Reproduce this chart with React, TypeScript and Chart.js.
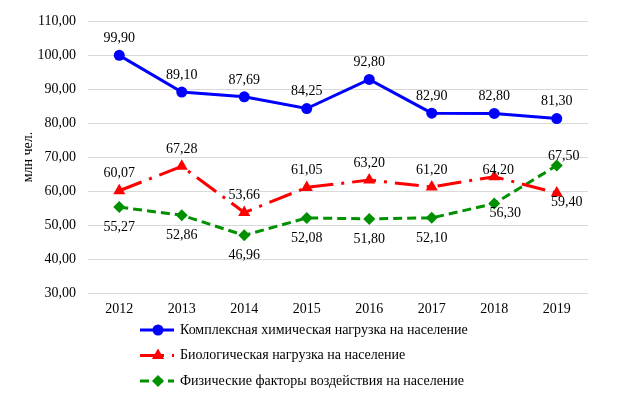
import React, { useEffect, useRef } from "react";
import { Chart, registerables } from "chart.js";

Chart.register(...registerables);

const years = ["2012", "2013", "2014", "2015", "2016", "2017", "2018", "2019"];
const chemical = [99.9, 89.1, 87.69, 84.25, 92.8, 82.9, 82.8, 81.3];
const biological = [60.07, 67.28, 53.66, 61.05, 63.2, 61.2, 64.2, 59.4];
const physical = [55.27, 52.86, 46.96, 52.08, 51.8, 52.1, 56.3, 67.5];
const seriesNames = [
  "Комплексная химическая нагрузка на население",
  "Биологическая нагрузка на население",
  "Физические факторы воздействия на население",
];
const yTicks = { min: 30, max: 110, step: 10 };
const yTitle = "млн чел.";

const FONT_FAMILY = "'Liberation Serif', 'Times New Roman', serif";
const fmt = (v: number) => v.toFixed(2).replace(".", ",");

// label placement (styling, not data): default offset and per-index overrides
const labelOffsets: { def: [number, number]; over: Record<number, [number, number]> }[] = [
  { def: [0, -17], over: {} },
  { def: [0, -17], over: { 6: [4, -6], 7: [10, 9] } },
  { def: [0, 20], over: { 6: [11, 10], 7: [7, -9] } },
];

function drawMarker(ctx: CanvasRenderingContext2D, style: string, x: number, y: number, r: number, color: string) {
  ctx.save();
  ctx.setLineDash([]);
  ctx.fillStyle = color;
  ctx.beginPath();
  if (style === "circle") {
    ctx.arc(x, y, r, 0, Math.PI * 2);
  } else if (style === "triangle") {
    for (let i = 0; i < 3; i++) {
      const a = (i * 2 * Math.PI) / 3;
      const px = x + Math.sin(a) * r;
      const py = y - Math.cos(a) * r;
      if (i === 0) ctx.moveTo(px, py);
      else ctx.lineTo(px, py);
    }
    ctx.closePath();
  } else {
    ctx.moveTo(x, y - r);
    ctx.lineTo(x + r, y);
    ctx.lineTo(x, y + r);
    ctx.lineTo(x - r, y);
    ctx.closePath();
  }
  ctx.fill();
  ctx.restore();
}

const labelPlugin = {
  id: "valueLabels",
  afterDatasetsDraw(chart: any) {
    const ctx = chart.ctx as CanvasRenderingContext2D;
    ctx.save();
    ctx.font = `14px ${FONT_FAMILY}`;
    ctx.fillStyle = "#000";
    ctx.textAlign = "center";
    ctx.textBaseline = "middle";
    chart.data.datasets.forEach((ds: any, di: number) => {
      const meta = chart.getDatasetMeta(di);
      meta.data.forEach((pt: any, i: number) => {
        const off = labelOffsets[di].over[i] || labelOffsets[di].def;
        ctx.fillText(fmt(ds.data[i]), pt.x + off[0], pt.y + off[1]);
      });
    });
    ctx.restore();
  },
};

const legendPlugin = {
  id: "customLegend",
  afterDraw(chart: any) {
    const ctx = chart.ctx as CanvasRenderingContext2D;
    const base = chart.chartArea.bottom + 37;
    ctx.save();
    ctx.font = `14px ${FONT_FAMILY}`;
    ctx.textBaseline = "middle";
    ctx.textAlign = "left";
    chart.data.datasets.forEach((ds: any, i: number) => {
      const y = base + i * 25.5;
      const x0 = 132;
      const x1 = 166;
      ctx.save();
      ctx.strokeStyle = ds.borderColor;
      ctx.lineWidth = ds.borderWidth;
      ctx.setLineDash(ds.borderDash || []);
      ctx.beginPath();
      ctx.moveTo(x0, y);
      ctx.lineTo(x1, y);
      ctx.stroke();
      ctx.restore();
      drawMarker(ctx, ds.pointStyle, 150, y, ds.pointRadius, ds.borderColor);
      ctx.fillStyle = "#000";
      ctx.fillText(ds.label, 172, y);
    });
    ctx.restore();
  },
};

export default function App() {
  const ref = useRef<HTMLCanvasElement | null>(null);
  useEffect(() => {
    if (!ref.current) return;
    const font = { family: FONT_FAMILY, size: 14 };
    const chart = new Chart(ref.current, {
      type: "line",
      data: {
        labels: years,
        datasets: [
          {
            label: seriesNames[0],
            data: chemical,
            borderColor: "#0000ff",
            backgroundColor: "#0000ff",
            borderWidth: 3,
            pointStyle: "circle",
            pointRadius: 5.5,
            pointBackgroundColor: "#0000ff",
            pointBorderColor: "#0000ff",
            pointBorderWidth: 0,
            tension: 0,
          },
          {
            label: seriesNames[1],
            data: biological,
            borderColor: "#ff0000",
            backgroundColor: "#ff0000",
            borderWidth: 3,
            borderDash: [24, 8, 3, 8],
            pointStyle: "triangle",
            pointRadius: 7,
            pointBackgroundColor: "#ff0000",
            pointBorderColor: "#ff0000",
            pointBorderWidth: 0,
            tension: 0,
          },
          {
            label: seriesNames[2],
            data: physical,
            borderColor: "#009000",
            backgroundColor: "#009000",
            borderWidth: 3,
            borderDash: [9, 5],
            pointStyle: "rectRot",
            pointRadius: 6,
            pointBackgroundColor: "#009000",
            pointBorderColor: "#009000",
            pointBorderWidth: 0,
            tension: 0,
          },
        ],
      },
      options: {
        responsive: false,
        animation: false,
        layout: { autoPadding: false, padding: { top: 13, right: 31, left: 0, bottom: 66 } },
        plugins: { legend: { display: false }, tooltip: { enabled: false } },
        scales: {
          x: {
            offset: true,
            grid: { display: false, drawTicks: false },
            border: { display: false },
            ticks: { color: "#000", font, padding: 8 },
            afterFit: (s: any) => {
              s.height = 30;
              s.paddingLeft = 0;
              s.paddingRight = 0;
            },
          },
          y: {
            min: yTicks.min,
            max: yTicks.max,
            ticks: { stepSize: yTicks.step, color: "#000", font, padding: 12, callback: (v: any) => fmt(Number(v)) },
            grid: { color: "#d9d9d9", drawTicks: false, lineWidth: 1 },
            border: { display: false },
            title: { display: true, text: yTitle, color: "#000", font, padding: { top: 12, bottom: 0 } },
            afterFit: (s: any) => {
              s.width = 80;
              s.paddingTop = 0;
              s.paddingBottom = 0;
            },
          },
        },
      },
      plugins: [labelPlugin, legendPlugin],
    } as any);
    return () => chart.destroy();
  }, []);
  return (
    <div style={{ width: 611, height: 381 }}>
      <canvas ref={ref} width={611} height={381} style={{ display: "block" }} />
    </div>
  );
}
